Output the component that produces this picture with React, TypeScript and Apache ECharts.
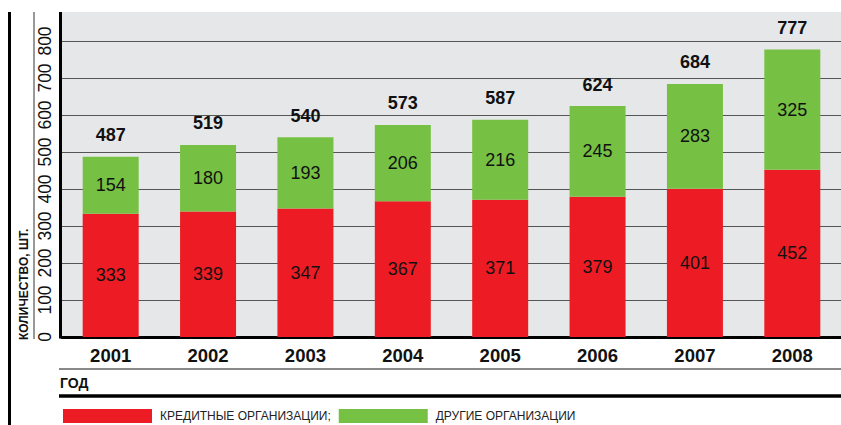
import React, { useEffect, useRef } from "react";
import * as echarts from "echarts";

const years = ["2001", "2002", "2003", "2004", "2005", "2006", "2007", "2008"];
const creditOrgs = [333, 339, 347, 367, 371, 379, 401, 452];
const otherOrgs = [154, 180, 193, 206, 216, 245, 283, 325];
const totals = [487, 519, 540, 573, 587, 624, 684, 777];
const seriesNames = ["КРЕДИТНЫЕ ОРГАНИЗАЦИИ", "ДРУГИЕ ОРГАНИЗАЦИИ"];
const yTitle = "КОЛИЧЕСТВО, ШТ.";
const xTitle = "ГОД";

const FONT = "'Liberation Sans', Arial, sans-serif";

export default function App() {
  const ref = useRef<HTMLDivElement>(null);
  useEffect(() => {
    if (!ref.current) return;
    const chart = echarts.init(ref.current, null, { renderer: "svg" });
    chart.setOption({
      animation: false,
      textStyle: { fontFamily: FONT },
      grid: { left: 62, right: -4, top: 41, bottom: 88, containLabel: false },
      xAxis: {
        type: "category",
        data: years,
        axisLine: { show: true, lineStyle: { color: "#000", width: 3 } },
        axisTick: { show: false },
        axisLabel: { color: "#111", fontSize: 18.5, fontWeight: "bold", fontFamily: FONT, margin: 9 },
      },
      yAxis: {
        type: "value",
        min: 0,
        max: 800,
        interval: 100,
        axisLine: { show: false },
        axisTick: { show: false },
        splitLine: { show: true, lineStyle: { color: "#555", width: 1.2 } },
        axisLabel: { color: "#111", fontSize: 17.5, fontFamily: FONT, rotate: 90, margin: 8 },
      },
      legend: {
        data: seriesNames,
        left: 58,
        top: 404,
        itemWidth: 89,
        itemHeight: 14,
        itemGap: 8,
        icon: "rect",
        formatter: (n: string) => (n === seriesNames[0] ? n + ";" : n),
        textStyle: { color: "#222", fontSize: 12, fontFamily: FONT, padding: [0, 0, 0, 3] },
      },
      graphic: [
        { type: "rect", z: -10, silent: true, shape: { x: 60, y: 12, width: 781, height: 325 }, style: { fill: "#e6e7e8" } },
        { type: "line", z: 10, shape: { x1: 60.5, y1: 12, x2: 60.5, y2: 338.5 }, style: { stroke: "#000", lineWidth: 3 } },
        { type: "line", z: 10, shape: { x1: 9.5, y1: 12, x2: 9.5, y2: 425 }, style: { stroke: "#000", lineWidth: 3 } },
        { type: "line", z: 10, shape: { x1: 34, y1: 12, x2: 34, y2: 339 }, style: { stroke: "#333", lineWidth: 1 } },
        { type: "line", z: 10, shape: { x1: 59, y1: 369, x2: 841, y2: 369 }, style: { stroke: "#888", lineWidth: 2 } },
        { type: "line", z: 10, shape: { x1: 59, y1: 396, x2: 841, y2: 396 }, style: { stroke: "#000", lineWidth: 3.5 } },
        {
          type: "text",
          z: 10,
          x: 60,
          y: 383,
          style: { text: xTitle, fill: "#111", font: `bold 14px ${FONT}`, textAlign: "left", textVerticalAlign: "middle" },
        },
        {
          type: "text",
          z: 10,
          x: 24,
          y: 340,
          rotation: Math.PI / 2,
          style: { text: yTitle, fill: "#111", font: `bold 12px ${FONT}`, textAlign: "left", textVerticalAlign: "middle" },
        },
      ],
      series: [
        {
          name: seriesNames[0],
          type: "bar",
          stack: "total",
          barWidth: 56,
          data: creditOrgs,
          itemStyle: { color: "#ed1c24" },
          label: { show: true, position: "inside", color: "#111", fontSize: 18, fontFamily: FONT },
        },
        {
          name: seriesNames[1],
          type: "bar",
          stack: "total",
          barWidth: 56,
          data: otherOrgs,
          itemStyle: { color: "#76c043" },
          label: { show: true, position: "inside", color: "#111", fontSize: 18, fontFamily: FONT },
        },
        {
          name: "total",
          type: "line",
          data: totals,
          symbol: "circle",
          symbolSize: 1,
          showSymbol: true,
          itemStyle: { color: "rgba(0,0,0,0)" },
          lineStyle: { opacity: 0 },
          label: { show: true, position: "top", distance: 12, color: "#111", fontSize: 18, fontWeight: "bold", fontFamily: FONT },
          z: 5,
        },
      ],
    });
    return () => chart.dispose();
  }, []);
  return <div ref={ref} style={{ width: 841, height: 425, position: "absolute", left: 0, top: 0 }} />;
}
